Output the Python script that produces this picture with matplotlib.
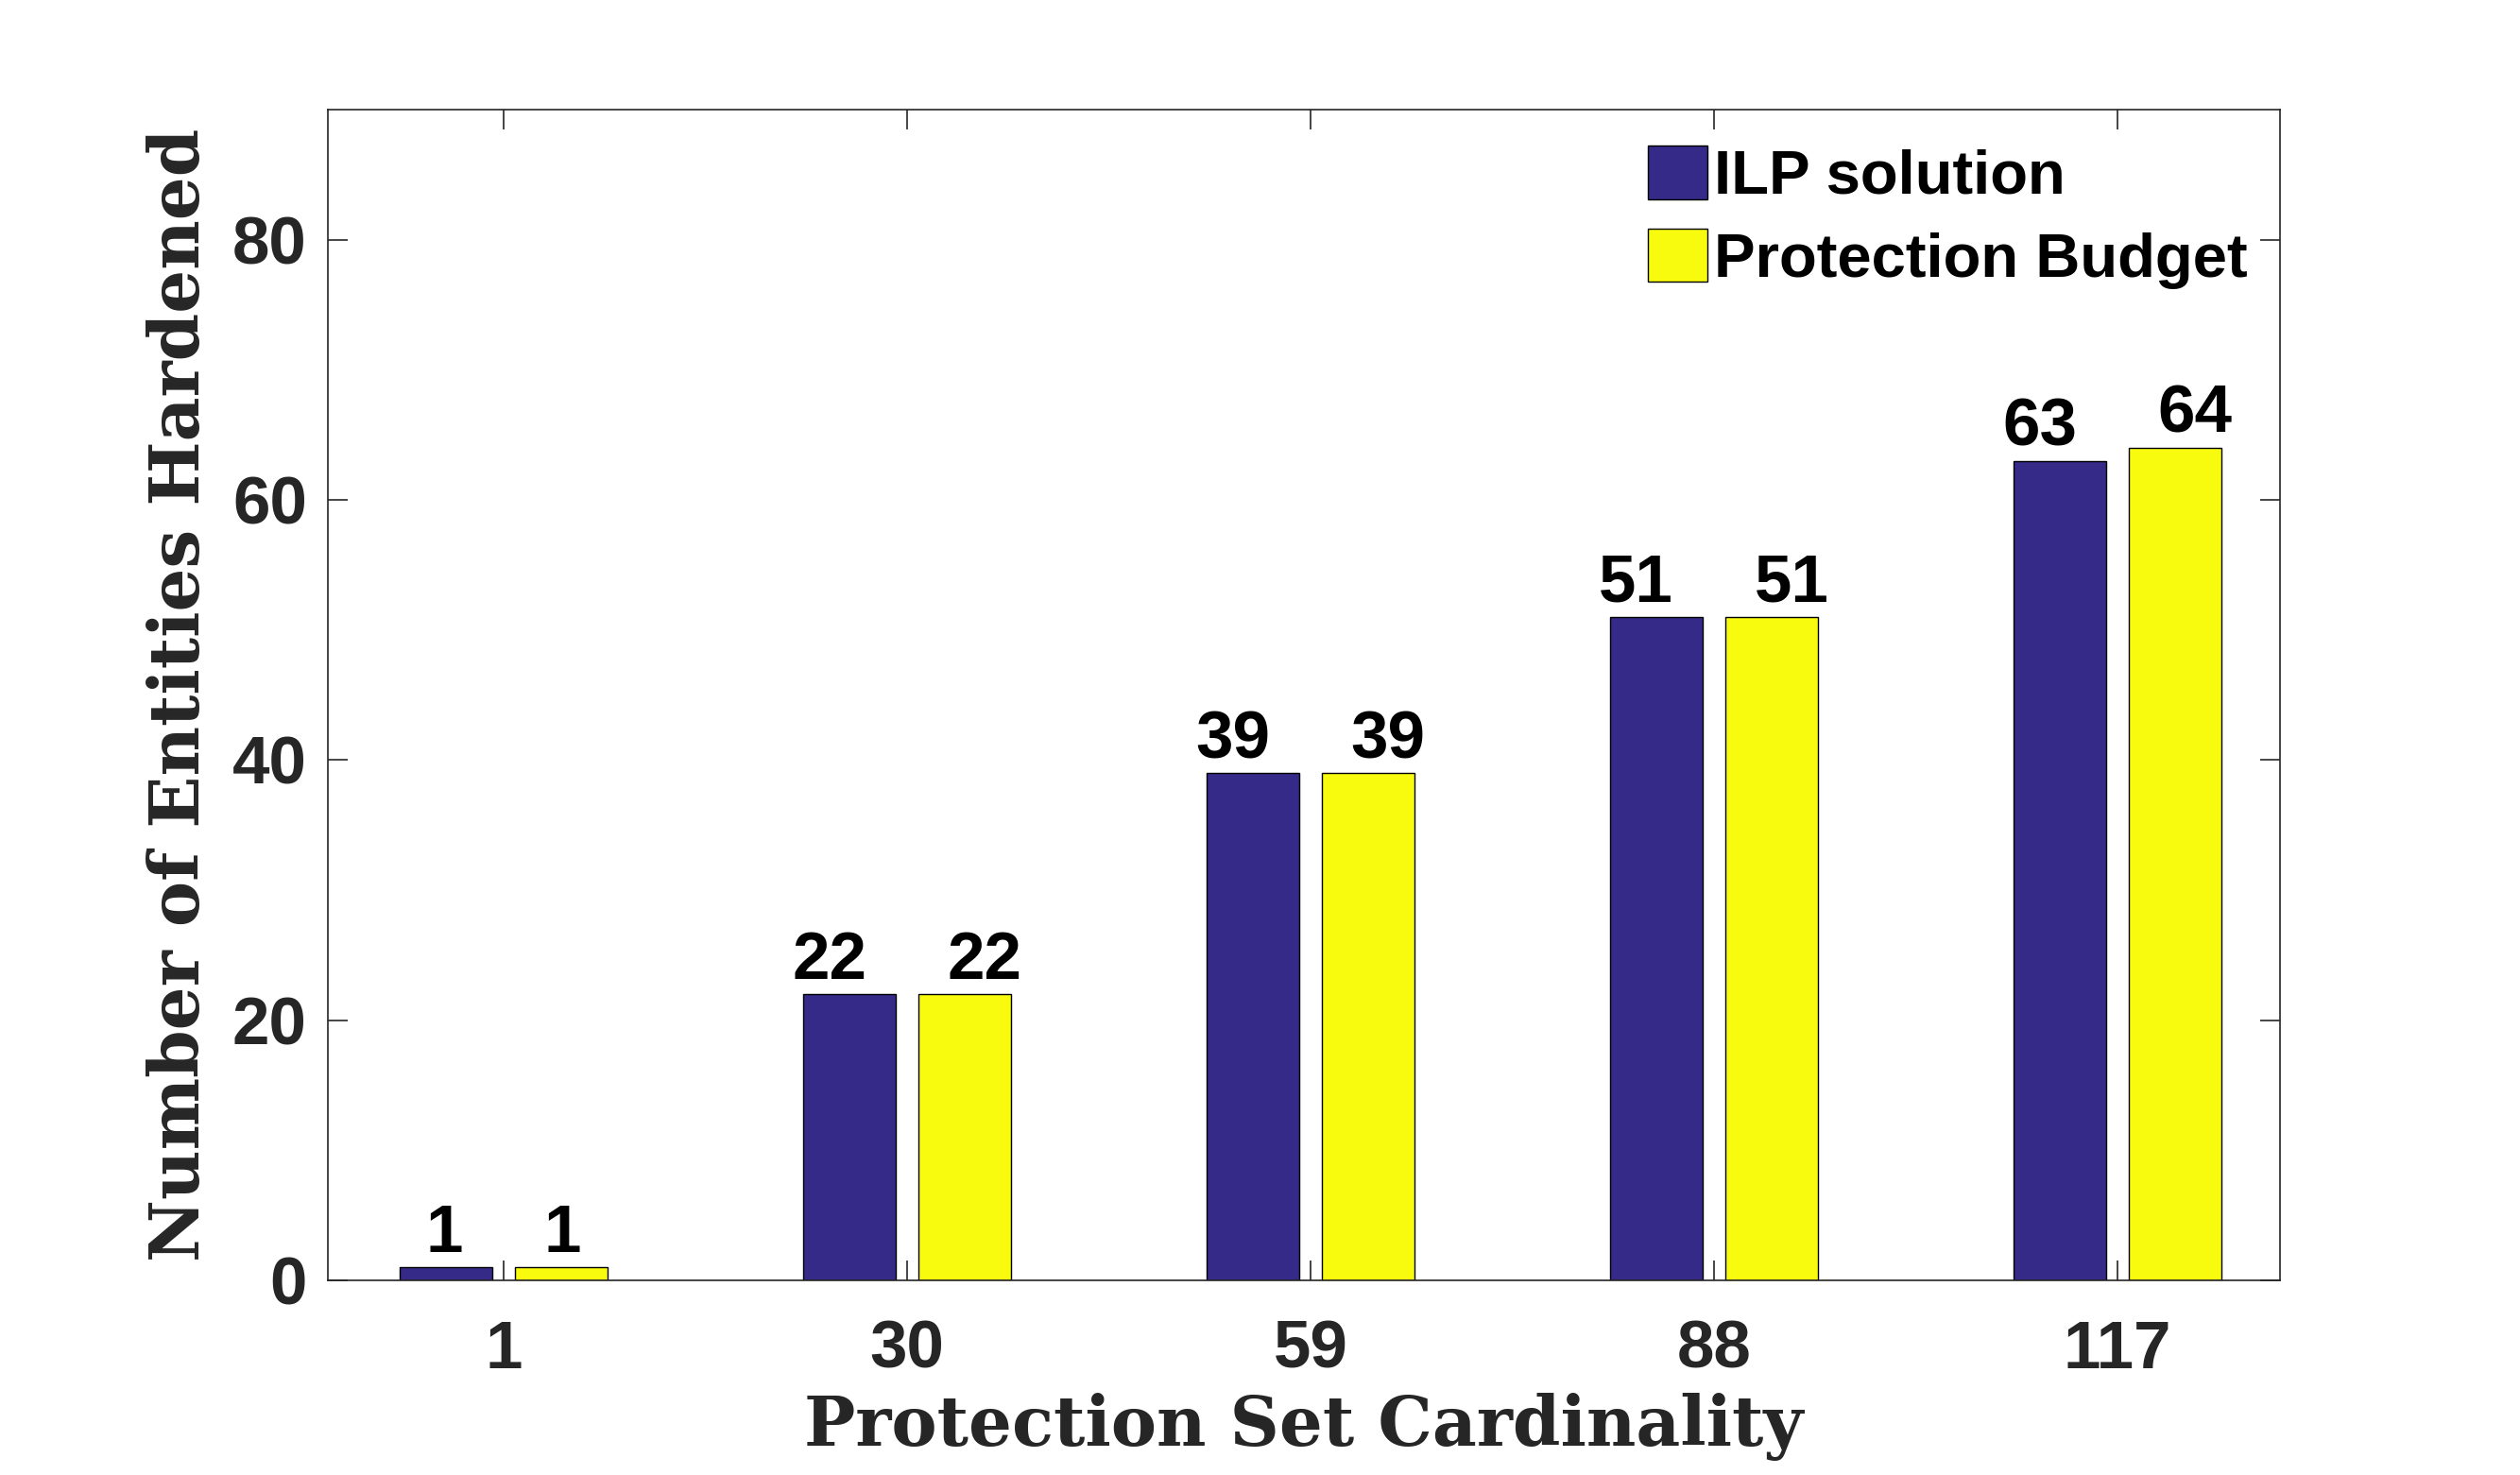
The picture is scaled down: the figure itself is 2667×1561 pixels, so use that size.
import matplotlib.pyplot as plt
import numpy as np

# Data
cardinality = ["1", "30", "59", "88", "117"]
ilp_solution = [1, 22, 39, 51, 63]
protection_budget = [1, 22, 39, 51, 64]

blue = "#352A87"
yellow = "#F9FB0E"
dark = "#262626"
num_font = "Liberation Sans"
lab_font = "DejaVu Serif"

fig = plt.figure(figsize=(26.67, 15.61), dpi=100)
ax = fig.add_axes([0.1301, 0.1320, 0.7747, 0.7937])

x = np.arange(len(cardinality))
w = 0.23
off = 0.143

ax.bar(x - off, ilp_solution, w, color=blue, edgecolor="black", linewidth=1.0, label="ILP solution")
ax.bar(x + off, protection_budget, w, color=yellow, edgecolor="black", linewidth=1.0, label="Protection Budget")

# value labels above the bars
for xi, v in zip(x, ilp_solution):
    ax.annotate(str(v), (xi - 0.10, v), xytext=(0, 11.5), textcoords="offset points",
                ha="right", va="baseline", fontsize=51, fontweight="bold",
                family=num_font, color="black")
for xi, v in zip(x, protection_budget):
    ax.annotate(str(v), (xi + 0.10, v), xytext=(0, 11.5), textcoords="offset points",
                ha="left", va="baseline", fontsize=51, fontweight="bold",
                family=num_font, color="black")

ax.set_xlim(-0.436, 4.404)
ax.set_ylim(0, 90)
ax.set_xticks(x)
ax.set_xticklabels(cardinality)
ax.set_yticks([0, 20, 40, 60, 80])

ax.tick_params(direction="in", length=15, width=1.2, color=dark,
               top=True, right=True, labelsize=51, labelcolor=dark)
ax.tick_params(axis="x", pad=30)
ax.tick_params(axis="y", pad=16)
for lbl in ax.get_xticklabels() + ax.get_yticklabels():
    lbl.set_family(num_font)
    lbl.set_fontweight("bold")
for s in ax.spines.values():
    s.set_color(dark)
    s.set_linewidth(1.2)

ax.set_xlabel("Protection Set Cardinality", fontsize=52, fontweight="bold",
              family=lab_font, color=dark, labelpad=8)
ax.set_ylabel("Number of Entities Hardened", fontsize=52, fontweight="bold",
              family=lab_font, color=dark, labelpad=14)

ax.legend(loc="upper left", bbox_to_anchor=(0.676, 0.969), frameon=False,
          prop={"family": num_font, "weight": "bold", "size": 47},
          handlelength=0.97, handleheight=0.95, handletextpad=0.1,
          labelspacing=0.37, borderpad=0, borderaxespad=0)

fig.savefig("out.png", dpi=100)
